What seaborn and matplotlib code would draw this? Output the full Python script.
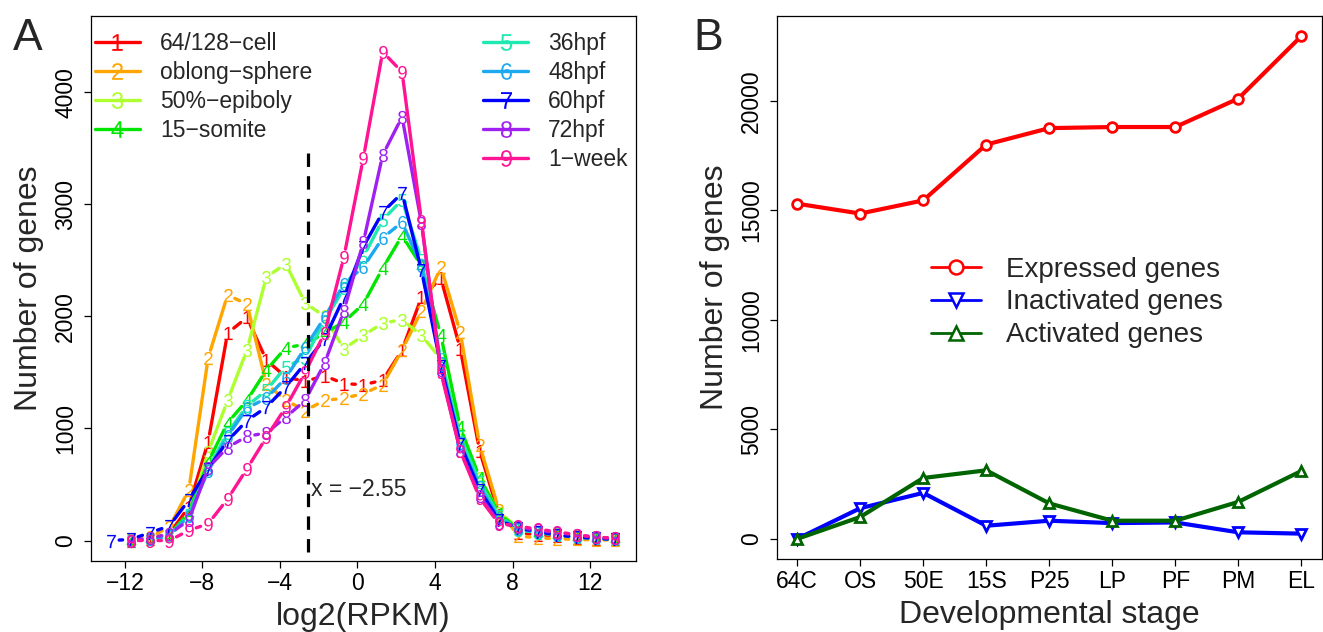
import numpy as np
import pandas as pd
import matplotlib
matplotlib.use("Agg")
import matplotlib.pyplot as plt
from matplotlib.lines import Line2D
import seaborn as sns

# ---- panel A: number of genes per log2(RPKM) bin, one series per stage ----
log2_bins = [-12.7, -11.7, -10.7, -9.7, -8.7, -7.7, -6.7, -5.7, -4.7, -3.7,
             -2.7, -1.7, -0.7, 0.3, 1.3, 2.3, 3.3, 4.3, 5.3, 6.3,
             7.3, 8.3, 9.3, 10.3, 11.3, 12.3, 13.3]
nan = np.nan
cell_64_128 = [nan, 0, 10, 60, 300, 880, 1850, 1990, 1610, 1460, 1420, 1470, 1400, 1390,
               1430, 1700, 2170, 2340, 1710, 800, 230, 70, 50, 40, 25, 15, 10]
oblong_sphere = [nan, 10, 30, 120, 450, 1630, 2190, 2110, 1400, 1250, 1160, 1250, 1270, 1310,
                 1390, 1700, 2050, 2440, 1860, 850, 270, 40, 25, 15, 10, 5, 5]
epiboly_50 = [nan, 0, 10, 50, 230, 790, 1250, 1700, 2350, 2470, 2120, 2000, 1710, 1830,
              1940, 1970, 1830, 1620, 950, 560, 250, 110, 80, 60, 40, 30, 20]
somite_15 = [nan, 0, 10, 50, 250, 700, 1050, 1250, 1520, 1720, 1750, 1850, 1950, 2110,
             2430, 2720, 2450, 1830, 1010, 560, 240, 100, 70, 50, 30, 20, 10]
hpf_36 = [nan, 0, 10, 40, 230, 640, 960, 1200, 1340, 1550, 1630, 1960, 2250, 2530,
          2860, 3040, 2500, 1620, 920, 520, 220, 95, 70, 50, 30, 20, 10]
hpf_48 = [nan, 0, 10, 40, 220, 620, 930, 1180, 1270, 1450, 1720, 1990, 2290, 2440,
          2700, 2840, 2450, 1580, 870, 480, 200, 100, 75, 50, 30, 20, 10]
hpf_60 = [0, 10, 70, 130, 360, 640, 890, 1070, 1190, 1370, 1580, 1800, 2170, 2620,
          2930, 3100, 2410, 1560, 860, 450, 180, 110, 80, 50, 30, 20, 10]
hpf_72 = [nan, 0, 20, 60, 180, 650, 830, 930, 960, 1100, 1250, 1580, 2050, 2660,
          3440, 3780, 2830, 1520, 800, 400, 160, 120, 90, 70, 50, 30, 20]
week_1 = [nan, 0, 0, 0, 90, 150, 370, 640, 920, 1190, 1500, 1850, 2530, 3410,
          4360, 4180, 2850, 1500, 800, 380, 150, 130, 100, 80, 50, 30, 20]

stage_names = ["64/128−cell", "oblong−sphere", "50%−epiboly", "15−somite",
               "36hpf", "48hpf", "60hpf", "72hpf", "1−week"]
stage_counts = [cell_64_128, oblong_sphere, epiboly_50, somite_15,
                hpf_36, hpf_48, hpf_60, hpf_72, week_1]
stage_colors = ["#FF0000", "#FFA500", "#ADFF2F", "#00E600", "#1DE9B0",
                "#1EA8F0", "#0000FF", "#A020F0", "#FF1493"]
cutoff = -2.55
cutoff_span = [-100, 3480]

# ---- panel B: expressed / inactivated / activated genes per stage ----
dev_stages = ["64C", "OS", "50E", "15S", "P25", "LP", "PF", "PM", "EL"]
expressed = [15300, 14850, 15450, 18000, 18750, 18800, 18800, 20100, 22950]
inactivated = [0, 1400, 2100, 600, 830, 720, 750, 300, 240]
activated = [0, 1000, 2780, 3130, 1620, 830, 830, 1690, 3100]
kind_names = ["Expressed genes", "Inactivated genes", "Activated genes"]
kind_colors = ["#FF0000", "#0000FF", "#006400"]
kind_markers = ["o", "v", "^"]

sns.set_theme(style="ticks")
plt.rcParams["font.family"] = ["Liberation Sans", "DejaVu Sans"]
plt.rcParams["mathtext.fontset"] = "custom"
plt.rcParams["mathtext.rm"] = "Liberation Sans"

TICK = 16.5
LAB = 23


def style_axes(ax):
    for s in ax.spines.values():
        s.set_visible(True)
        s.set_color("black")
        s.set_linewidth(0.9)
    ax.tick_params(axis="both", direction="out", length=5, width=0.9,
                   labelsize=TICK, color="black", labelcolor="black")
    ax.tick_params(axis="x", pad=3)
    ax.tick_params(axis="y", labelrotation=90, pad=5)
    for t in ax.get_yticklabels():
        t.set_va("center")


def gapped_line(ax, xs, ys, gap_px, **kw):
    # mimic R type="b": segments stop short of each point
    pts = ax.transData.transform(np.column_stack([xs, ys]))
    inv = ax.transData.inverted()
    sx, sy = [], []
    for p0, p1 in zip(pts[:-1], pts[1:]):
        if np.isnan(p0).any() or np.isnan(p1).any():
            continue
        d = p1 - p0
        L = np.hypot(*d)
        if L <= 2 * gap_px:
            continue
        u = d / L
        a = inv.transform(p0 + u * gap_px)
        b = inv.transform(p1 - u * gap_px)
        sx += [a[0], b[0], np.nan]
        sy += [a[1], b[1], np.nan]
    ax.plot(sx, sy, **kw)


fig = plt.figure(figsize=(13.23, 6.32), dpi=100)
axA = fig.add_axes([0.0688, 0.1128, 0.4116, 0.8619])
axB = fig.add_axes([0.5873, 0.1155, 0.4116, 0.8592])

# ---------------- panel A ----------------
axA.set_xlim(-13.74, 14.34)
axA.set_ylim(-180, 4680)
for i, (name, vals, col) in enumerate(zip(stage_names, stage_counts, stage_colors)):
    df = pd.DataFrame({"log2": log2_bins, "genes": vals}).dropna()
    gapped_line(axA, df["log2"].values, df["genes"].values, 8,
                color=col, lw=2.4, solid_capstyle="round", zorder=2 + i * 0.1)
    sns.scatterplot(data=df, x="log2", y="genes", ax=axA, color=col,
                    marker=r"$\mathrm{%d}$" % (i + 1), s=90, linewidth=0,
                    zorder=2.05 + i * 0.1, legend=False)

axA.plot([cutoff, cutoff], cutoff_span, color="black", lw=2.3,
         dashes=(4.2, 2.9), zorder=5)
axA.text(cutoff + 0.16, 455, "x = −2.55", fontsize=16.5, ha="left", va="center")

axA.set_xticks([-12, -8, -4, 0, 4, 8, 12])
axA.set_yticks([0, 1000, 2000, 3000, 4000])
style_axes(axA)
axA.set_xlabel("log2(RPKM)", fontsize=LAB, labelpad=5)
axA.set_ylabel("Number of genes", fontsize=LAB, labelpad=7)

handles = [Line2D([0], [0], color=c, lw=2.4, marker=r"$\mathrm{%d}$" % (i + 1),
                  markersize=12, markeredgewidth=0)
           for i, c in enumerate(stage_colors)]
leg_kw = dict(frameon=False, fontsize=16.5, handlelength=1.97, handletextpad=0.87,
              labelspacing=0.26, borderpad=0, borderaxespad=0, loc="upper left")
legA1 = axA.legend(handles[:4], stage_names[:4], bbox_to_anchor=(0.007, 0.971), **leg_kw)
axA.add_artist(legA1)
axA.legend(handles[4:], stage_names[4:], bbox_to_anchor=(0.72, 0.971), **leg_kw)

# ---------------- panel B ----------------
dfB = pd.DataFrame({
    "pos": list(range(len(dev_stages))) * 3,
    "genes": expressed + inactivated + activated,
    "kind": np.repeat(kind_names, len(dev_stages)),
})
sns.lineplot(data=dfB, x="pos", y="genes", hue="kind", style="kind",
             palette=dict(zip(kind_names, kind_colors)),
             markers=dict(zip(kind_names, kind_markers)), dashes=False,
             linewidth=3, markersize=7, ax=axB, legend=False, sort=False)
for ln in axB.lines:
    ln.set_markeredgecolor(ln.get_color())
    ln.set_markerfacecolor("white")
    ln.set_markeredgewidth(2)

axB.set_xlim(-0.32, 8.32)
axB.set_ylim(-918, 23868)
axB.set_xticks(range(len(dev_stages)))
axB.set_xticklabels(dev_stages)
axB.set_yticks([0, 5000, 10000, 15000, 20000])
style_axes(axB)
axB.set_xlabel("Developmental stage", fontsize=LAB, labelpad=5)
axB.set_ylabel("Number of genes", fontsize=LAB, labelpad=7)

hB = [Line2D([0], [0], color=c, lw=2, marker=m, markersize=10,
             markerfacecolor="white", markeredgecolor=c, markeredgewidth=1.8)
      for c, m in zip(kind_colors, kind_markers)]
axB.legend(hB, kind_names, frameon=False, fontsize=20, handlelength=1.8,
           handletextpad=0.9, labelspacing=0.25, borderpad=0, borderaxespad=0,
           loc="upper left", bbox_to_anchor=(0.283, 0.557))

fig.text(28 / 1323, 1 - 38 / 632, "A", fontsize=32, ha="center", va="center")
fig.text(708 / 1323, 1 - 38 / 632, "B", fontsize=32, ha="center", va="center")

fig.savefig("out.png", dpi=100)
